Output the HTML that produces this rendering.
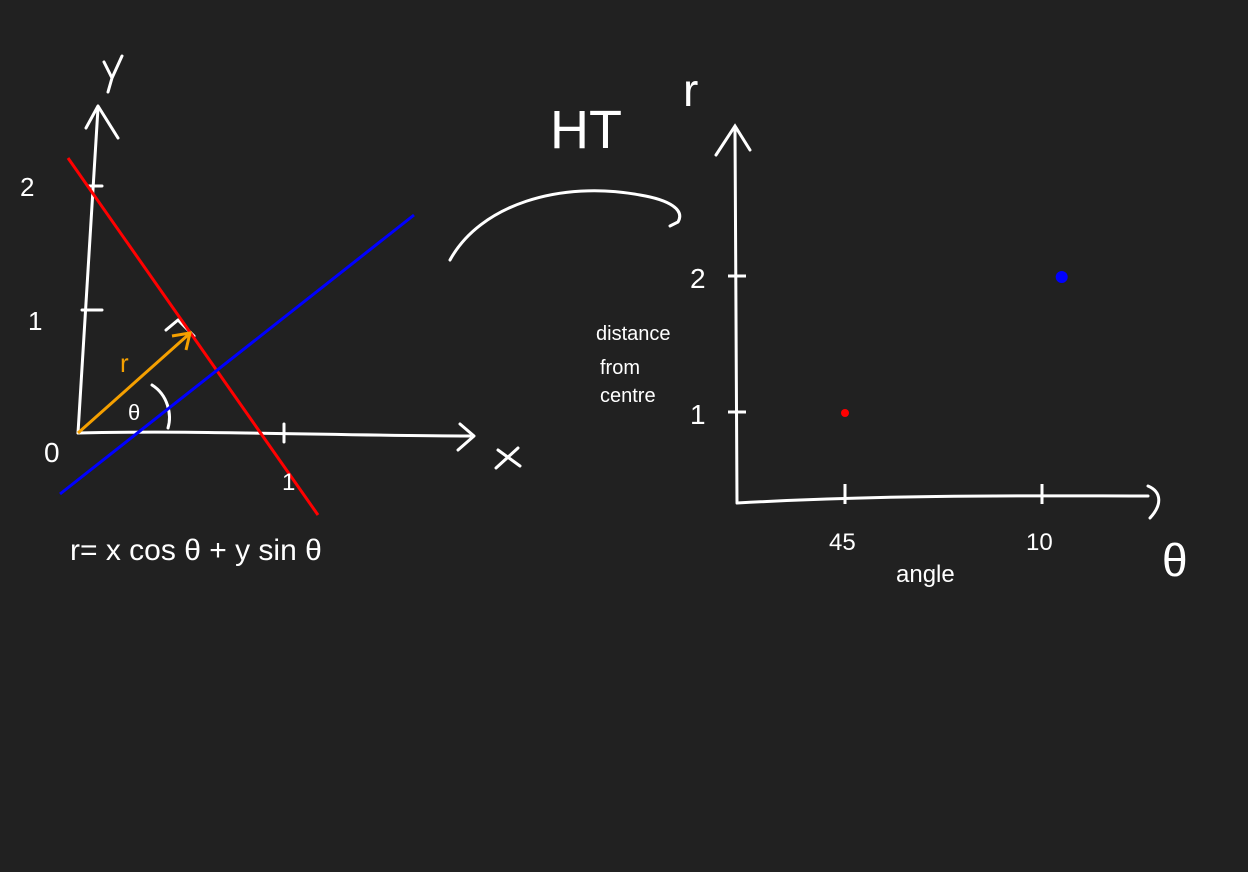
<!DOCTYPE html>
<html><head><meta charset="utf-8"><style>
html,body{margin:0;padding:0;background:#212121;}
svg{display:block;}
text{font-family:"Liberation Sans",sans-serif;fill:#fff;}
</style></head><body>
<svg id="c" width="1248" height="872" viewBox="0 0 1248 872">
<rect width="1248" height="872" fill="#212121"/>
<g fill="none" stroke="#fff" stroke-width="3" stroke-linecap="round" stroke-linejoin="round">
<path d="M78 433 L98 108"/>
<path d="M86 128 L98 106 L118 138"/>
<path d="M78 433 C200 430 350 436 470 436"/>
<path d="M460 424 L474 436 L458 450"/>
<path d="M88 186 L102 186 M82 310 L102 310 M284 424 L284 442"/>
<path d="M152 385 C168 395 172 415 168 428"/>
<path d="M166 330 L178 320 L194 336"/>
<path d="M104 62 L112 78 L122 56 M112 78 L108 92"/>
<path d="M498 450 L520 466 M518 448 L496 468"/>
<path d="M450 260 C480 205 560 180 640 195 C670 200 685 210 678 222 L670 226"/>
</g>
<line x1="68" y1="158" x2="318" y2="515" stroke="#f00" stroke-width="3"/>
<line x1="60" y1="494" x2="414" y2="215" stroke="#00f" stroke-width="3"/>
<line x1="78" y1="433" x2="188" y2="335" stroke="#f5a000" stroke-width="3"/>
<path d="M172 336 L190 333 L186 350" fill="none" stroke="#f5a000" stroke-width="3"/>
<text x="120" y="372" font-size="26" style="fill:#f5a000">r</text>
<text x="128" y="420" font-size="22">θ</text>
<text x="20" y="196" font-size="26">2</text>
<text x="28" y="330" font-size="26">1</text>
<text x="44" y="462" font-size="28">0</text>
<text x="282" y="490" font-size="24">1</text>
<text x="70" y="560" font-size="30">r= x cos θ + y sin θ</text>
<text x="550" y="148" font-size="54">HT</text>
<text x="683" y="106" font-size="46">r</text>
<text x="1162" y="576" font-size="46">θ</text>
<text x="596" y="340" font-size="20">distance</text>
<text x="600" y="374" font-size="20">from</text>
<text x="600" y="402" font-size="20">centre</text>
<text x="896" y="582" font-size="24">angle</text>
<g id="hp"></g>
</svg>
<script>
const rTicks=[1,2];
const rTickLabels=["1","2"];
const thetaTicks=[45,135];
const thetaTickLabels=["45","10"];
const pointTheta=[45,144];
const pointR=[1,2];
const pointColors=["#f00","#00f"];
const pointSizes=[4,6];
const NS="http://www.w3.org/2000/svg";
const ox=737,oy=503;
const xs=t=>746.5+(t)*197/90;
const ys=r=>oy-91-(r-1)*136+91-91*1+ (0);
function ysc(r){return 548-136*r;}
const g=document.getElementById('hp');
function mk(tag,attrs){const e=document.createElementNS(NS,tag);for(const k in attrs)e.setAttribute(k,attrs[k]);g.appendChild(e);return e;}
let e=mk('path',{d:`M${ox} ${oy} L${ox-2} 130 M716 155 L735 126 L750 150 M${ox} ${oy} C900 494 1050 496 1148 496 M1148 486 C1162 492 1162 505 1150 518`,fill:'none',stroke:'#fff','stroke-width':3,'stroke-linecap':'round'});


rTicks.forEach((r,i)=>{const y=ysc(r);
 let t=mk('line',{x1:728,y1:y,x2:746,y2:y,stroke:'#fff','stroke-width':3});
 
 
 let l=mk('text',{x:690,y:y+12,'font-size':28});l.textContent=rTickLabels[i];
 
 
});
thetaTicks.forEach((th,i)=>{const x=xs(th);
 let t=mk('line',{x1:x,y1:484,x2:x,y2:504,stroke:'#fff','stroke-width':3});
 
 
 let l=mk('text',{x:x-16,y:550,'font-size':24});l.textContent=thetaTickLabels[i];
 
 
});
pointTheta.forEach((th,i)=>{
 let c=mk('circle',{cx:xs(th),cy:ysc(pointR[i])+1,r:pointSizes[i],fill:pointColors[i]});
 
 
});
</script>
</body></html>
